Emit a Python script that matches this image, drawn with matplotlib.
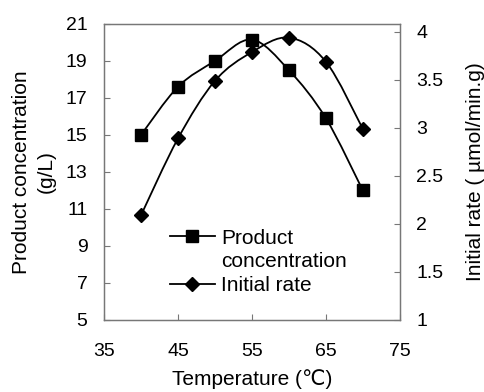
import numpy as np
import matplotlib
matplotlib.use('Agg')
import matplotlib.pyplot as plt
from matplotlib.path import Path
from matplotlib.patches import PathPatch
from matplotlib.lines import Line2D

plt.rcParams['font.family'] = ['Liberation Sans', 'DejaVu Sans']

# data
temp = [40, 45, 50, 55, 60, 65, 70]
product_conc = [15.0, 17.6, 19.0, 20.15, 18.5, 15.9, 12.0]
initial_rate = [2.09, 2.89, 3.49, 3.79, 3.94, 3.69, 2.99]

left_ticks = [5, 7, 9, 11, 13, 15, 17, 19, 21]
right_ticks = [1, 1.5, 2, 2.5, 3, 3.5, 4]
right_labels = ['1', '1.5', '2', '2.5', '3', '3.5', '4']
x_ticks = [35, 45, 55, 65, 75]


def smooth_path(x, y):
    # excel-like smoothed line: bezier segments with catmull-rom control points
    x = np.asarray(x, float)
    y = np.asarray(y, float)
    pts = np.column_stack([x, y])
    n = len(pts)
    verts = [pts[0]]
    codes = [Path.MOVETO]
    for i in range(n - 1):
        p0 = pts[i - 1] if i > 0 else pts[i]
        p1 = pts[i]
        p2 = pts[i + 1]
        p3 = pts[i + 2] if i + 2 < n else pts[i + 1]
        c1 = p1 + (p2 - p0) / 6.0
        c2 = p2 - (p3 - p1) / 6.0
        verts += [c1, c2, p2]
        codes += [Path.CURVE4] * 3
    return Path(verts, codes)


fig = plt.figure(figsize=(4.84, 3.92), dpi=100)
ax1 = fig.add_axes([0.215, 0.184, 0.611, 0.755])
ax2 = ax1.twinx()

fs_tick = 14
fs_lab = 15
lw = 1.3
sq = 8.3
dm = 7.5

ax1.add_patch(PathPatch(smooth_path(temp, product_conc), fill=False, lw=lw, color='black'))
ax1.plot(temp, product_conc, ls='none', marker='s', ms=sq, color='black')

ax2.add_patch(PathPatch(smooth_path(temp, initial_rate), fill=False, lw=lw, color='black'))
ax2.plot(temp, initial_rate, ls='none', marker='D', ms=dm, color='black')

ax1.set_xlim(35, 75)
ax1.set_ylim(5, 21)
ax2.set_ylim(1, 4 + 8 / 96)

ax1.set_xticks(x_ticks)
ax1.set_yticks(left_ticks)
ax2.set_yticks(right_ticks)
ax2.set_yticklabels(right_labels)

for a in (ax1, ax2):
    a.tick_params(direction='in', length=4, width=0.8, color='#777777', labelsize=fs_tick, pad=12)
    for s in a.spines.values():
        s.set_color('#777777')
        s.set_linewidth(0.9)
ax1.tick_params(axis='x', pad=17)

ax1.set_xlabel('Temperature (\u2103)', fontsize=fs_lab, labelpad=6)
ax1.set_ylabel('Product concentration\n(g/L)', fontsize=fs_lab, labelpad=7, linespacing=1.4)
ax2.set_ylabel('Initial rate ( \u00b5mol/min.g)', fontsize=fs_lab, labelpad=16)

h1 = Line2D([], [], color='black', lw=lw, marker='s', ms=sq)
h_blank = Line2D([], [], color='none', lw=0)
h2 = Line2D([], [], color='black', lw=lw, marker='D', ms=dm)
leg = ax1.legend([h1, h_blank, h2], ['Product', 'concentration', 'Initial rate'],
                 loc='upper left', bbox_to_anchor=(0.223, 0.308), frameon=False,
                 fontsize=fs_lab, handlelength=2.15, handletextpad=0.3,
                 labelspacing=0.22, borderpad=0, borderaxespad=0)

fig.savefig('out.png', dpi=100)
